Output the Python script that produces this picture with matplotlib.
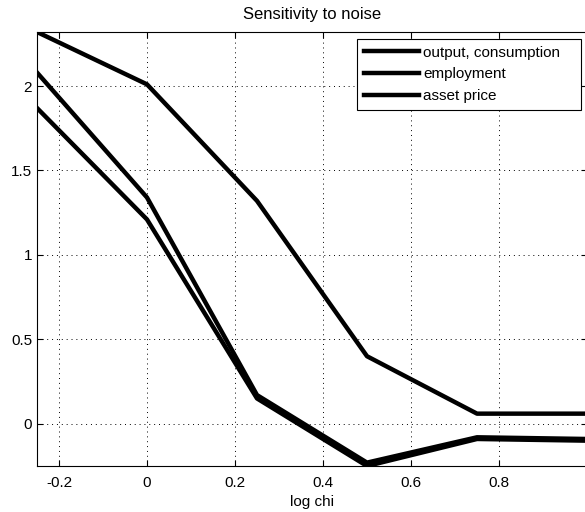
import matplotlib
matplotlib.use("Agg")
import matplotlib.pyplot as plt

plt.rcParams['font.family'] = ['Liberation Sans', 'DejaVu Sans']

log_chi = [-0.25, 0.0, 0.25, 0.5, 0.75, 1.0]
output_cons = [1.87, 1.21, 0.15, -0.25, -0.09, -0.10]
employment = [2.08, 1.34, 0.17, -0.23, -0.08, -0.09]
asset_price = [2.32, 2.01, 1.32, 0.40, 0.06, 0.06]

xticks = [-0.2, 0, 0.2, 0.4, 0.6, 0.8]
xtick_labels = ["-0.2", "0", "0.2", "0.4", "0.6", "0.8"]
yticks = [0, 0.5, 1, 1.5, 2]
ytick_labels = ["0", "0.5", "1", "1.5", "2"]


def main():
	fig = plt.figure(figsize=(5.85, 5.12), dpi=100)
	ax = fig.add_axes([37 / 585, 46 / 512, 550 / 585, 434 / 512])

	ax.plot(log_chi, output_cons, color="black", lw=3.2, label="output, consumption")
	ax.plot(log_chi, employment, color="black", lw=3.2, label="employment")
	ax.plot(log_chi, asset_price, color="black", lw=3.2, label="asset price")

	ax.set_xlim(-0.25, 1.0)
	ax.set_ylim(-0.25, 2.32)
	ax.set_xticks(xticks)
	ax.set_xticklabels(xtick_labels)
	ax.set_yticks(yticks)
	ax.set_yticklabels(ytick_labels)
	ax.tick_params(direction="in", top=True, right=True, labelsize=11, length=4)
	ax.tick_params(axis="x", pad=7.5)
	ax.grid(True, linestyle=(0, (1, 4)), color="black", linewidth=0.7)

	ax.set_xlabel("log chi", fontsize=11, labelpad=3.5)
	ax.set_title("Sensitivity to noise", fontsize=12, pad=9.5)

	# legend box spans a fixed width, text left aligned
	leg = ax.legend(loc="upper left", fontsize=11, handlelength=3.6, handletextpad=0.26,
		borderpad=0.45, labelspacing=0.5, fancybox=False, framealpha=1,
		edgecolor="black", mode="expand", borderaxespad=0,
		bbox_to_anchor=(0.582, 0.827, 0.407, 0.157))
	leg.get_frame().set_linewidth(0.8)

	plt.savefig("out.png", dpi=100)


if __name__ == '__main__':
	main()
